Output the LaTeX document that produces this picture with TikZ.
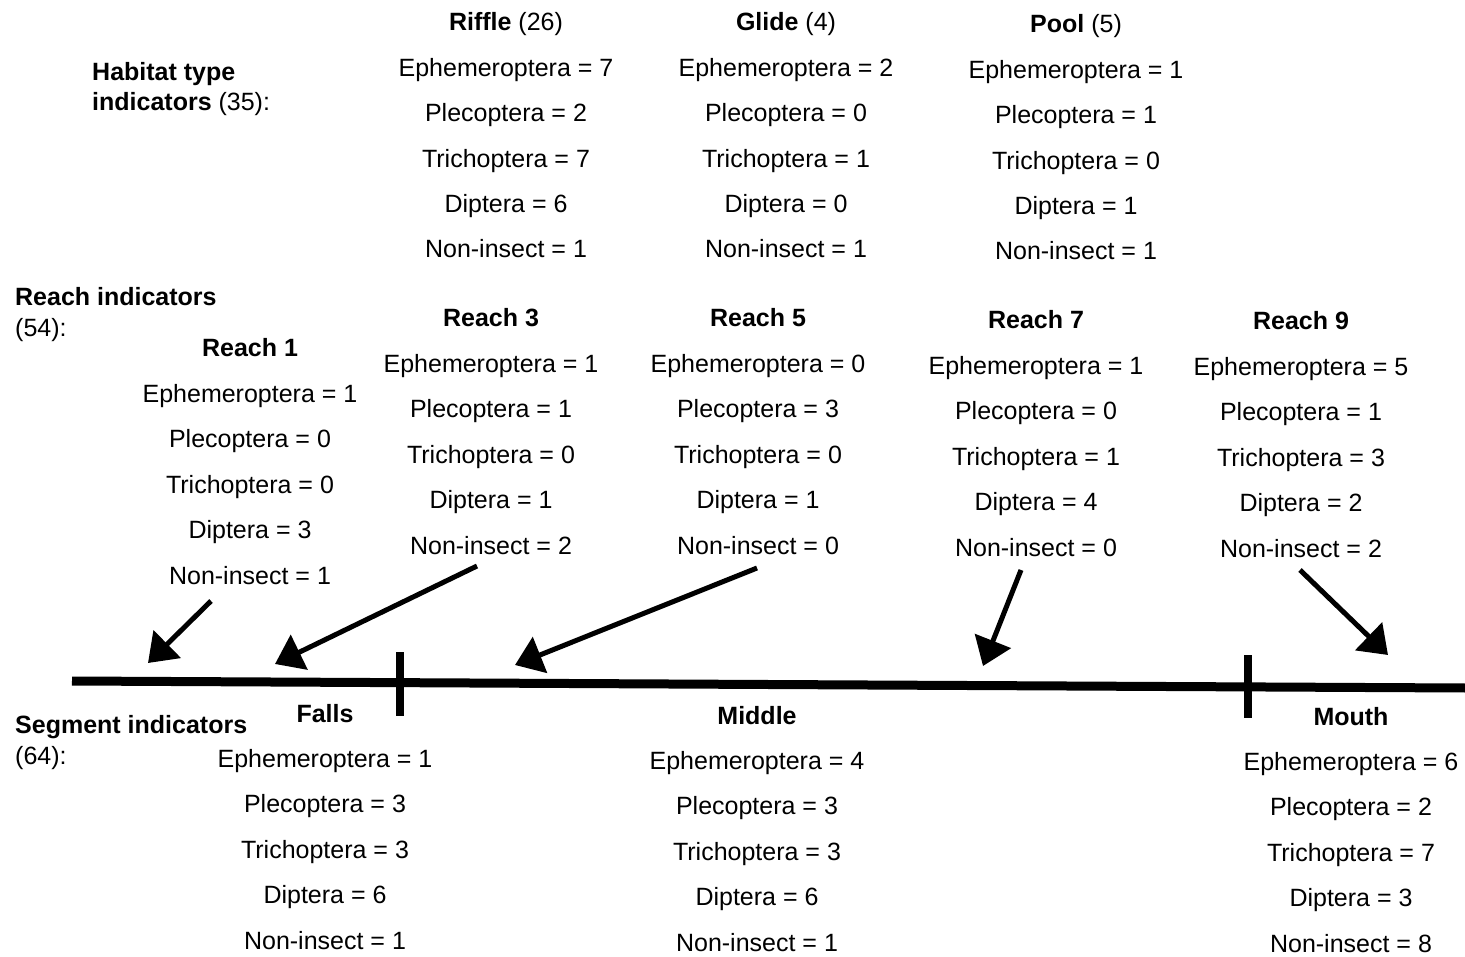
\documentclass[tikz,border=0pt]{standalone}
\usepackage{fontspec}
\setmainfont{Liberation Sans}
\usetikzlibrary{arrows.meta}
\newcommand\indcol[9]{%
  \node[txt] (#1-0) at (#2,#3) {#4};
  \node[txt] (#1-1) at (#2,#3+45.4) {Ephemeroptera = #5};
  \node[txt] (#1-2) at (#2,#3+90.8) {Plecoptera = #6};
  \node[txt] (#1-3) at (#2,#3+136.2) {Trichoptera = #7};
  \node[txt] (#1-4) at (#2,#3+181.6) {Diptera = #8};
  \node[txt] (#1-5) at (#2,#3+227) {Non-insect = #9};
}
\begin{document}
\begin{tikzpicture}[x=1pt,y=-1pt,
  txt/.style={anchor=base,inner sep=0pt,font=\fontsize{25}{30}\selectfont},
  lbl/.style={txt,anchor=base west},
  river/.style={line width=9pt},
  tickmark/.style={line width=8.5pt},
  pointer/.style={line width=5pt,-{Triangle[length=27pt,width=38pt]}},
]
\useasboundingbox (0,0) rectangle (1465,957);

% left labels
\node[lbl] (hab1) at (92,81) {\textbf{Habitat type}};
\node[lbl] (hab2) at (92,111) {\textbf{indicators} (35):};
\node[lbl] (rea1) at (15,306) {\textbf{Reach indicators}};
\node[lbl] (rea2) at (15,337) {(54):};
\node[lbl] (seg1) at (15,733) {\textbf{Segment indicators}};
\node[lbl] (seg2) at (15,764) {(64):};

% habitat columns
\indcol{rif}{506}{31}{\textbf{Riffle} (26)}{7}{2}{7}{6}{1}
\indcol{gli}{786}{31}{\textbf{Glide} (4)}{2}{0}{1}{0}{1}
\indcol{poo}{1076}{33}{\textbf{Pool} (5)}{1}{1}{0}{1}{1}

% reach columns
\indcol{r1}{250}{357}{\textbf{Reach 1}}{1}{0}{0}{3}{1}
\indcol{r3}{491}{327}{\textbf{Reach 3}}{1}{1}{0}{1}{2}
\indcol{r5}{758}{327}{\textbf{Reach 5}}{0}{3}{0}{1}{0}
\indcol{r7}{1036}{329}{\textbf{Reach 7}}{1}{0}{1}{4}{0}
\indcol{r9}{1301}{330}{\textbf{Reach 9}}{5}{1}{3}{2}{2}

% segment columns
\indcol{fal}{325}{722}{\textbf{Falls}}{1}{3}{3}{6}{1}
\indcol{mid}{757}{724}{\textbf{Middle}}{4}{3}{3}{6}{1}
\indcol{mou}{1351}{725}{\textbf{Mouth}}{6}{2}{7}{3}{8}

% river line and segment ticks
\coordinate (riverL) at (72,681);
\coordinate (riverR) at (1465,688);
\draw[river] (riverL) -- (riverR);
\coordinate (t1a) at (400,652);
\coordinate (t1b) at (400,716);
\coordinate (t2a) at (1248,655);
\coordinate (t2b) at (1248,718);
\draw[tickmark] (t1a) -- (t1b);
\draw[tickmark] (t2a) -- (t2b);

% reach arrows
\coordinate (a1s) at (211,601);
\coordinate (a1e) at (148,663);
\coordinate (a3s) at (477,566);
\coordinate (a3e) at (275,664);
\coordinate (a5s) at (757,568);
\coordinate (a5e) at (515,665);
\coordinate (a7s) at (1021,570);
\coordinate (a7e) at (983,666);
\coordinate (a9s) at (1300,570);
\coordinate (a9e) at (1388,655);
\draw[pointer] (a1s) -- (a1e);
\draw[pointer] (a3s) -- (a3e);
\draw[pointer] (a5s) -- (a5e);
\draw[pointer] (a7s) -- (a7e);
\draw[pointer] (a9s) -- (a9e);
\end{tikzpicture}
\end{document}
